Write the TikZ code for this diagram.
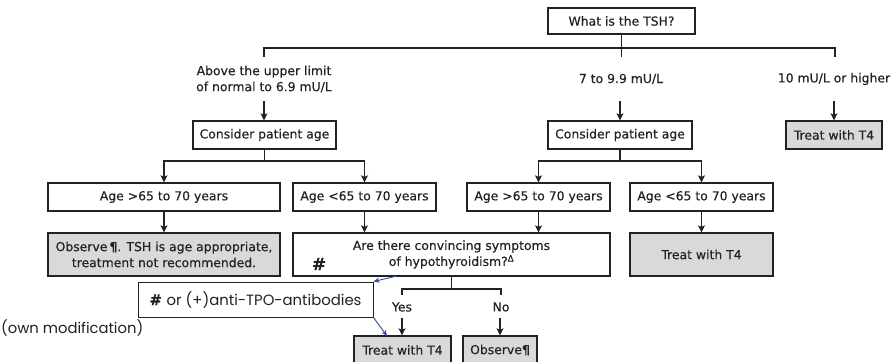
\documentclass[tikz,border=0pt]{standalone}
\usepackage{graphicx}
\usepackage{fontspec}
\setmainfont{DejaVu Sans}[FakeBold=0.35]
\newfontfamily\gothic{Poppins}
\usetikzlibrary{arrows.meta,calc}
\definecolor{lnc}{HTML}{222222}
\definecolor{gf}{HTML}{D9D9D9}
\definecolor{bl}{HTML}{2E4A9A}
\begin{document}
\begin{tikzpicture}[x=1pt,y=-1pt,
  every node/.style={font=\fontsize{12.4}{16}\selectfont, text=lnc, inner sep=0pt},
  box/.style={draw=lnc, line width=1.3pt, minimum height=28pt, align=center, fill=white},
  greybox/.style={box, fill=gf},
  conn/.style={draw=lnc, line width=1.2pt},
  arr/.style={conn, -{Stealth[length=7pt,width=7pt,inset=1.5pt]}},
  barr/.style={draw=bl, line width=0.9pt, -{Stealth[length=6pt,width=5pt]}},
]
\useasboundingbox[fill=white] (0,0) rectangle (893,361);

% nodes
\node[box, minimum width=147pt, minimum height=26pt] (tsh) at (621.5,21) {What is the TSH?};
\node[align=center] (lab1) at (264,79) {Above the upper limit\\of normal to 6.9 mU/L};
\node (lab2) at (621,79) {7 to 9.9 mU/L};
\node (lab3) at (834,79) {10 mU/L or higher};

\node[box, minimum width=143pt] (cpaL) at (264.5,135) {Consider patient age};
\node[box, minimum width=144pt] (cpaR) at (620,135) {Consider patient age};
\node[greybox, minimum width=96pt] (t4top) at (834,135) {Treat with T4};

\node[box, minimum width=232pt] (ageL1) at (164,197) {Age >65 to 70 years};
\node[box, minimum width=143pt] (ageL2) at (364.5,197) {Age <65 to 70 years};
\node[box, minimum width=143pt] (ageR1) at (538.5,197) {Age >65 to 70 years};
\node[box, minimum width=143pt] (ageR2) at (701.5,197) {Age <65 to 70 years};

\node[greybox, minimum width=232pt, minimum height=43pt] (obs) at (164,254.5)
  {Observe\,{\bfseries ¶}. TSH is age appropriate,\\treatment not recommended.};
\node[box, minimum width=317pt, minimum height=43pt] (are) at (451.5,254.5)
  {Are there convincing symptoms\\of hypothyroidism?\textsuperscript{Δ}};
\node[greybox, minimum width=143pt, minimum height=43pt] (t4R) at (701.5,254.5) {Treat with T4};
\node (hash) at (319,264) {\fontsize{17}{17}\selectfont\bfseries\#};

\node (yes) at (402,307) {Yes};
\node (no) at (501,307) {No};
\node[greybox, minimum width=97pt] (t4B) at (402.5,350) {Treat with T4};
\node[greybox, minimum width=74pt] (obsB) at (500,350) {Observe{\bfseries ¶}};

\node[draw=lnc, line width=1pt, fill=white, minimum width=235pt, minimum height=35pt] (tpo) at (255.5,299.5)
  {\resizebox{212pt}{!}{{\bfseries\#} {\gothic or (+)anti-TPO-antibodies}}};
\node[anchor=west] (own) at (1,328) {\resizebox{142pt}{!}{\gothic (own modification)}};

% top bar
\coordinate (bar) at (621,48);
\coordinate (jL) at (264,57);
\coordinate (jR) at (835,57);
\draw[conn] (tsh.south) -- (tsh.south |- jL);
\draw[conn] (jL) -- (jL |- bar) -- (jR |- bar) -- (jR);

% arrows to first row
\coordinate (a1) at (264,101);
\coordinate (a2) at (620,101);
\coordinate (a3) at (834,101);
\draw[arr] (a1) -- (a1 |- cpaL.north);
\draw[arr] (a2) -- (a2 |- cpaR.north);
\draw[arr] (a3) -- (a3 |- t4top.north);

% branches from consider patient age
\coordinate (brL) at (264,161);
\coordinate (brR) at (620,161);
\draw[arr] (cpaL.south) -- (cpaL.south |- brL) -| (ageL1.north);
\draw[arr] (cpaL.south |- brL) -| (ageL2.north);
\draw[arr] (cpaR.south) -- (cpaR.south |- brR) -| (ageR1.north);
\draw[arr] (cpaR.south |- brR) -| (ageR2.north);

% age rows to next
\draw[arr] (ageL1.south) -- (obs.north);
\draw[arr] (ageL2.south) -- (ageL2.south |- are.north);
\draw[arr] (ageR1.south) -- (ageR1.south |- are.north);
\draw[arr] (ageR2.south) -- (t4R.north);

% yes / no
\coordinate (yn) at (452,289);
\coordinate (yT) at (402,295);
\coordinate (nT) at (501,295);
\draw[conn] (are.south) -- (are.south |- yn);
\draw[conn] (yT) -- (yT |- yn) -- (nT |- yn) -- (nT);
\coordinate (ya) at (402,318);
\coordinate (na) at (500,318);
\draw[arr] (ya) -- (ya |- t4B.north);
\draw[arr] (na) -- (na |- obsB.north);

% blue arrows
\coordinate (b1) at (397,276);
\coordinate (b2) at (387,336);
\draw[barr] (b1) -- (tpo.north east);
\draw[barr] (tpo.south east) -- (b2);
\end{tikzpicture}
\end{document}
